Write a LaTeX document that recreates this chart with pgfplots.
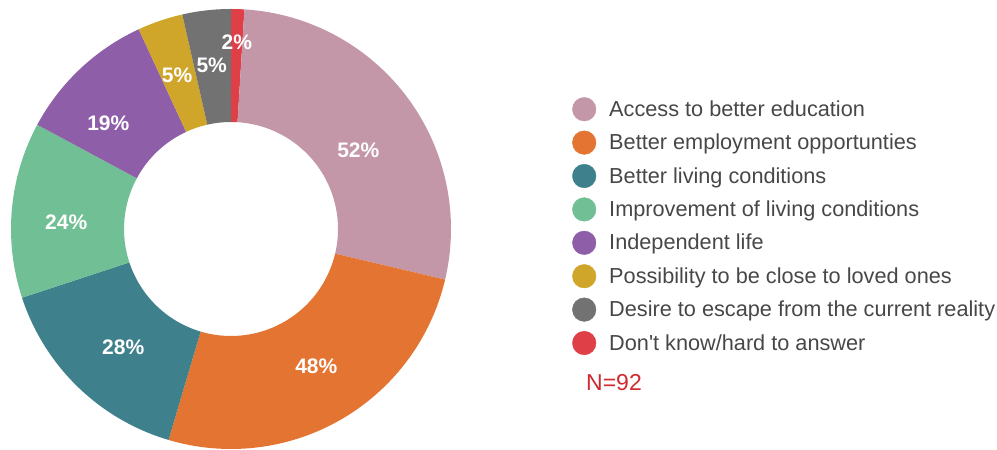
\documentclass[border=0pt]{standalone}
\usepackage{fontspec}
\setmainfont{Liberation Sans}
\usepackage{pgfplots}
\usepackage{pgfplotstable}
\pgfplotsset{compat=1.18}

\definecolor{cpink}{HTML}{C497A8}
\definecolor{corange}{HTML}{E47431}
\definecolor{cteal}{HTML}{3E818D}
\definecolor{cgreen}{HTML}{71BF94}
\definecolor{cpurple}{HTML}{8E5EA8}
\definecolor{cyellow}{HTML}{D0A62A}
\definecolor{cgray}{HTML}{727272}
\definecolor{cred}{HTML}{DF3F47}
\definecolor{nred}{HTML}{D02A2E}
\definecolor{legtext}{HTML}{474747}

% slices clockwise from 12 o'clock
% sweep = slice size in degrees as drawn, pct = printed share, (lx,ly) = label spot
\pgfplotstableread{
pct sweep color   lx     ly
2   3.5   cred    5.8    186.5
52  99.8  cpink   127.3  78.7
48  93.2  corange 85.3   -137.7
28  55.3  cteal   -107.8 -118.5
24  46.5  cgreen  -164.8 7.2
19  36.9  cpurple -122.7 105.7
5   12.0  cyellow -54    154
5   12.8  cgray   -19.3  163.5
}\slices

\begin{document}
\begin{tikzpicture}
\useasboundingbox (0,0) rectangle (997pt,450pt);
\begin{axis}[
  at={(11pt,1pt)}, anchor=south west,
  scale only axis, width=440pt, height=440pt,
  xmin=-220, xmax=220, ymin=-220, ymax=220,
  hide axis, clip=false,
  legend image code/.code={\fill[#1] (0pt,0pt) circle[radius=11.8pt];
    \path[draw=none,fill=none] (25pt,0pt);},
  legend cell align=left,
  legend style={at={(1.2755,0.7995)}, anchor=north west, draw=none, fill=none,
    inner sep=0pt, outer sep=0pt, row sep=9.4pt,
    font=\fontsize{21.7}{24}\selectfont, text=legtext,
    nodes={inner sep=0pt}},
]
\pgfmathsetmacro\cum{90}
\pgfplotsforeachungrouped \i in {0,...,7}{%
  \pgfplotstablegetelem{\i}{sweep}\of\slices \let\v\pgfplotsretval
  \pgfplotstablegetelem{\i}{color}\of\slices \let\c\pgfplotsretval
  \pgfmathsetmacro\b{\cum-\v}%
  \edef\temp{%
    \noexpand\fill[\c] (axis cs:{220*cos(\cum)},{220*sin(\cum)})
      arc[start angle=\cum, end angle=\b, radius=220]
      -- (axis cs:{107*cos(\b)},{107*sin(\b)})
      arc[start angle=\b, end angle=\cum, radius=107] -- cycle;
  }\temp
  \global\let\cum\b
}
\pgfplotsforeachungrouped \i in {0,...,7}{%
  \pgfplotstablegetelem{\i}{pct}\of\slices \let\p\pgfplotsretval
  \pgfplotstablegetelem{\i}{lx}\of\slices \let\x\pgfplotsretval
  \pgfplotstablegetelem{\i}{ly}\of\slices \let\y\pgfplotsretval
  \edef\temp{%
    \noexpand\node[text=white, inner sep=0pt,
      font=\noexpand\fontsize{21}{21}\noexpand\selectfont\noexpand\bfseries]
      at (axis cs:\x,\y) {\p\noexpand\%};
  }\temp
}
\addlegendimage{cpink}\addlegendentry{Access to better education}
\addlegendimage{corange}\addlegendentry{Better employment opportunties}
\addlegendimage{cteal}\addlegendentry{Better living conditions}
\addlegendimage{cgreen}\addlegendentry{Improvement of living conditions}
\addlegendimage{cpurple}\addlegendentry{Independent life}
\addlegendimage{cyellow}\addlegendentry{Possibility to be close to loved ones}
\addlegendimage{cgray}\addlegendentry{Desire to escape from the current reality}
\addlegendimage{cred}\addlegendentry{Don\textquotesingle t know/hard to answer}
\end{axis}
\node[anchor=west, inner sep=0pt, text=nred, font=\fontsize{23}{23}\selectfont] at (586pt,67pt) {N=92};
\end{tikzpicture}
\end{document}
